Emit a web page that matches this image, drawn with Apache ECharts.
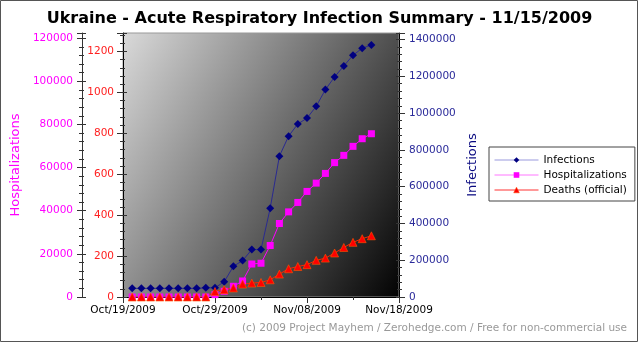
<!DOCTYPE html>
<html><head><meta charset="utf-8">
<script src="https://cdn.jsdelivr.net/npm/echarts@6/dist/echarts.min.js"></script>
<style>html,body{margin:0;padding:0;background:#fff}#c{width:639px;height:342px}</style>
</head><body><div id="c"></div>
<script>
const titleText = 'Ukraine - Acute Respiratory Infection Summary - 11/15/2009';
const creditText = '(c) 2009 Project Mayhem / Zerohedge.com / Free for non-commercial use';
const axisStart = '2009-10-19';
const axisEnd = '2009-11-18';
const dates = ['2009-10-20','2009-10-21','2009-10-22','2009-10-23','2009-10-24','2009-10-25','2009-10-26','2009-10-27','2009-10-28','2009-10-29','2009-10-30','2009-10-31','2009-11-01','2009-11-02','2009-11-03','2009-11-04','2009-11-05','2009-11-06','2009-11-07','2009-11-08','2009-11-09','2009-11-10','2009-11-11','2009-11-12','2009-11-13','2009-11-14','2009-11-15'];
const infections = [47000,47000,47000,47000,47000,47000,47000,47000,50000,50000,83000,167000,198000,258000,258000,483000,766000,875000,941000,973000,1037000,1128000,1197000,1257000,1315000,1353000,1371000];
const hospitalizations = [0,0,0,0,0,0,0,0,0,1100,2650,4970,7430,15300,15650,23870,34090,39470,43840,48950,52800,57300,62300,65670,69850,73380,75700];
const deaths = [0,0,0,0,0,0,0,0,0,27,36,44,63,68,71,84,112,138,149,158,179,190,215,242,267,285,299];
const seriesNames = ['Infections','Hospitalizations','Deaths (official)'];
const monthNames = ['Jan','Feb','Mar','Apr','May','Jun','Jul','Aug','Sep','Oct','Nov','Dec'];

const DAY = 86400000;
const t0 = Date.parse(axisStart + 'T00:00:00Z');
const dayOf = d => (Date.parse(d + 'T00:00:00Z') - t0) / DAY;
const xMax = dayOf(axisEnd);
const fmtDate = v => {
  const dt = new Date(t0 + v * DAY);
  const dd = String(dt.getUTCDate()).padStart(2, '0');
  return monthNames[dt.getUTCMonth()] + '/' + dd + '/' + dt.getUTCFullYear();
};
const fmtNum = v => String(Math.round(v));
const pairs = arr => dates.map((d, i) => [dayOf(d), arr[i]]);

const FONT = 'DejaVu Sans';
const chart = echarts.init(document.getElementById('c'), null, {renderer: 'canvas'});

function yAx(o) {
  return Object.assign({
    type: 'value', min: 0, splitLine: {show: false},
    axisLine: {show: true, onZero: false, lineStyle: {color: '#000', width: 1}},
    minorTick: {show: true, splitNumber: 5, length: 3, lineStyle: {color: '#333'}},
    axisTick: {show: true, length: 6, lineStyle: {color: '#333'}},
  }, o);
}
function shadow(o) {
  return Object.assign({
    type: 'value', min: 0, splitLine: {show: false},
    axisLine: {show: false}, axisLabel: {show: false},
    axisTick: {show: true, inside: true, length: 4, lineStyle: {color: '#333'}},
    minorTick: {show: true, splitNumber: 5, length: 2, lineStyle: {color: '#333'}},
  }, o);
}

const option = {
  backgroundColor: '#fff',
  animation: false,
  title: [
    {text: titleText, left: 'center', top: 6,
     textStyle: {fontFamily: FONT, fontSize: 16, fontWeight: 'bold', color: '#000'}},
    {text: creditText, right: 7, bottom: 3,
     textStyle: {fontFamily: FONT, fontSize: 10.5, fontWeight: 'normal', color: '#999'}}
  ],
  grid: {left: 123, top: 33, width: 276, height: 264, show: true,
    borderColor: '#999', borderWidth: 1,
    backgroundColor: new echarts.graphic.LinearGradient(0, 0, 1.18, 0.7, [
      {offset: 0, color: '#dadada'}, {offset: 1, color: '#000000'}])},
  legend: {
    orient: 'vertical', left: 489, top: 147,
    padding: [7, 8, 5, 5], itemWidth: 44, itemHeight: 7, itemGap: 3,
    backgroundColor: '#fff', borderColor: '#444', borderWidth: 1, borderRadius: 0,
    textStyle: {fontFamily: FONT, fontSize: 10.5, color: '#000', lineHeight: 12},
    data: [
      {name: seriesNames[0], itemStyle: {color: '#000080'}, lineStyle: {color: '#9999dd', width: 1}},
      {name: seriesNames[1], itemStyle: {color: '#ff00ff'}, lineStyle: {color: '#ff77ff', width: 1}},
      {name: seriesNames[2], itemStyle: {color: '#ff0000', borderColor: '#ff4400', borderWidth: 0.5}, lineStyle: {color: '#ff3333', width: 1}}
    ]
  },
  xAxis: [
    {type: 'value', min: 0, max: xMax, interval: 10, position: 'bottom', splitLine: {show: false},
     axisLine: {show: true, onZero: false, lineStyle: {color: '#000'}},
     axisTick: {show: true, length: 6, lineStyle: {color: '#333'}},
     minorTick: {show: true, splitNumber: 2, length: 3, lineStyle: {color: '#333'}},
     axisLabel: {formatter: fmtDate, fontFamily: FONT, fontSize: 10.5, color: '#000', margin: 8}}
  ],
  yAxis: [
    yAx({position: 'left', offset: 0, max: 1290, interval: 200,
      axisLabel: {formatter: fmtNum, color: '#ff2020', fontFamily: FONT, fontSize: 10.5, margin: 9, showMaxLabel: false}}),
    yAx({position: 'left', offset: 41, max: 122400, interval: 20000,
      name: 'Hospitalizations', nameLocation: 'middle', nameGap: 60, nameRotate: 90,
      nameTextStyle: {color: '#ff00ff', fontFamily: FONT, fontSize: 13},
      axisLine: {show: true, onZero: false, lineStyle: {color: '#333', width: 1}},
      axisTick: {show: true, length: 5, lineStyle: {color: '#333'}},
      axisLabel: {formatter: fmtNum, color: '#ff00ff', fontFamily: FONT, fontSize: 10.5, margin: 9, showMaxLabel: false}}),
    yAx({position: 'right', offset: 0, max: 1436000, interval: 200000,
      name: 'Infections', nameLocation: 'middle', nameGap: 67, nameRotate: 90,
      nameTextStyle: {color: '#0a0a80', fontFamily: FONT, fontSize: 13},
      axisLabel: {formatter: fmtNum, color: '#2a2a9a', fontFamily: FONT, fontSize: 10.5, margin: 10, showMaxLabel: false}}),
    shadow({position: 'left', offset: 0, max: 1290, interval: 200}),
    shadow({position: 'left', offset: 41, max: 122400, interval: 20000}),
    shadow({position: 'right', offset: 0, max: 1436000, interval: 200000, axisTick: {show: true, inside: true, length: 3, lineStyle: {color: '#333'}}})
  ],
  series: [
    {name: seriesNames[0], type: 'line', yAxisIndex: 2, data: pairs(infections),
     symbol: 'diamond', symbolSize: 8, lineStyle: {color: '#2a2a90', width: 1},
     itemStyle: {color: '#000080'}},
    {name: seriesNames[1], type: 'line', yAxisIndex: 1, data: pairs(hospitalizations),
     symbol: 'rect', symbolSize: 7, lineStyle: {color: '#ff00ff', width: 1},
     itemStyle: {color: '#ff00ff'}},
    {name: seriesNames[2], type: 'line', yAxisIndex: 0, data: pairs(deaths),
     symbol: 'triangle', symbolSize: 8, lineStyle: {color: '#ff2200', width: 1},
     itemStyle: {color: '#ff0000', borderColor: '#ff5500', borderWidth: 0.6}}
  ],
  graphic: [
    {type: 'rect', shape: {x: 0.5, y: 0.5, width: 637, height: 341}, silent: true,
     style: {fill: null, stroke: '#555', lineWidth: 1}}
  ]
};
chart.setOption(option);
</script></body></html>
